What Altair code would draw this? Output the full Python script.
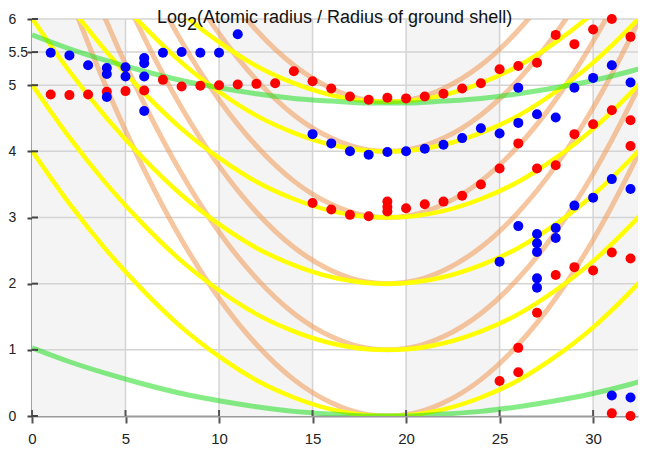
import altair as alt
import pandas as pd

# ---------------- data ----------------
curve_x = [0, 2, 4, 6, 8, 10, 12, 14, 16, 18, 19, 20, 22, 24, 26, 28, 30, 32, 33]

yellow_curves = {
    "0":    [4.01, 3.21, 2.50, 1.88, 1.34, 0.90, 0.54, 0.28, 0.10, 0.01, 0.00, 0.01, 0.10, 0.28, 0.54, 0.90, 1.34, 1.88, 2.18],
    "1":    [5.01, 4.21, 3.50, 2.88, 2.34, 1.90, 1.54, 1.28, 1.10, 1.01, 1.00, 1.01, 1.10, 1.28, 1.54, 1.90, 2.34, 2.88, 3.18],
    "2":    [6.01, 5.21, 4.50, 3.88, 3.34, 2.90, 2.54, 2.28, 2.10, 2.01, 2.00, 2.01, 2.10, 2.28, 2.54, 2.90, 3.34, 3.88, 4.18],
    "3":    [7.01, 6.21, 5.50, 4.88, 4.34, 3.90, 3.54, 3.28, 3.10, 3.01, 3.00, 3.01, 3.10, 3.28, 3.54, 3.90, 4.34, 4.88, 5.18],
    "4":    [8.01, 7.21, 6.50, 5.88, 5.34, 4.90, 4.54, 4.28, 4.10, 4.01, 4.00, 4.01, 4.10, 4.28, 4.54, 4.90, 5.34, 5.88, 6.18],
    "4.75": [8.76, 7.96, 7.25, 6.63, 6.09, 5.65, 5.29, 5.03, 4.85, 4.76, 4.75, 4.76, 4.85, 5.03, 5.29, 5.65, 6.09, 6.63, 6.93],
}
orange_curves = {
    "0":    [7.94, 6.36, 4.95, 3.72, 2.66, 1.78, 1.08, 0.55, 0.20, 0.02, 0.00, 0.02, 0.20, 0.55, 1.08, 1.78, 2.66, 3.72, 4.31],
    "1":    [8.94, 7.36, 5.95, 4.72, 3.66, 2.78, 2.08, 1.55, 1.20, 1.02, 1.00, 1.02, 1.20, 1.55, 2.08, 2.78, 3.66, 4.72, 5.31],
    "2":    [9.94, 8.36, 6.95, 5.72, 4.66, 3.78, 3.08, 2.55, 2.20, 2.02, 2.00, 2.02, 2.20, 2.55, 3.08, 3.78, 4.66, 5.72, 6.31],
    "3":    [10.94, 9.36, 7.95, 6.72, 5.66, 4.78, 4.08, 3.55, 3.20, 3.02, 3.00, 3.02, 3.20, 3.55, 4.08, 4.78, 5.66, 6.72, 7.31],
    "4":    [11.94, 10.36, 8.95, 7.72, 6.66, 5.78, 5.08, 4.55, 4.20, 4.02, 4.00, 4.02, 4.20, 4.55, 5.08, 5.78, 6.66, 7.72, 8.31],
    "4.75": [12.69, 11.11, 9.70, 8.47, 7.41, 6.53, 5.83, 5.30, 4.95, 4.77, 4.75, 4.77, 4.95, 5.30, 5.83, 6.53, 7.41, 8.47, 9.06],
}
green_curves = {
    "0":    [1.03, 0.82, 0.64, 0.48, 0.34, 0.23, 0.14, 0.07, 0.03, 0.00, 0.00, 0.00, 0.03, 0.07, 0.14, 0.23, 0.34, 0.48, 0.56],
    "4.73": [5.76, 5.55, 5.37, 5.21, 5.07, 4.96, 4.87, 4.80, 4.76, 4.73, 4.73, 4.73, 4.76, 4.80, 4.87, 4.96, 5.07, 5.21, 5.29],
}

red_x = [1, 2, 3, 4, 5, 6, 7, 8, 9, 10, 11, 12, 13, 14, 15, 16, 17, 18, 19, 20, 21, 22, 23, 24, 25, 26, 27, 28, 29, 30, 31, 32,
         15, 16, 17, 18, 19, 19, 19, 20, 21, 22, 23, 24, 25, 26, 27, 28, 29, 30, 31, 32, 32,
         28, 29, 30, 31, 32, 27, 26, 26, 25, 31, 32]
red_y = [4.86, 4.85, 4.86, 4.90, 4.91, 4.92, 5.08, 4.98, 4.99, 5.00, 5.01, 5.02, 5.03, 5.21, 5.06, 4.95, 4.83, 4.78,
         4.81, 4.80, 4.83, 4.87, 4.95, 5.03, 5.24, 5.29, 5.34, 5.76, 5.62, 5.84, 6.00, 5.73,
         3.22, 3.12, 3.04, 3.02, 3.24, 3.16, 3.09, 3.14, 3.20, 3.24, 3.33, 3.50, 3.74, 4.12, 3.74, 3.79, 4.26, 4.41, 4.62, 4.47, 4.08,
         2.13, 2.25, 2.20, 2.47, 2.38, 1.56, 1.03, 0.66, 0.53, 0.04, 0.00]

blue_x = [1, 2, 3, 4, 4, 4, 5, 5, 6, 6, 6, 6, 7, 8, 9, 10, 11,
          15, 16, 17, 18, 19, 20, 21, 22, 23, 24, 25, 26, 27, 28,
          26, 29, 30, 31, 32,
          29, 30, 31, 32,
          25, 26, 27, 27, 27, 28, 28, 27, 27, 31, 32]
blue_y = [5.49, 5.45, 5.30, 5.26, 5.17, 4.82, 5.27, 5.13, 5.41, 5.33, 5.13, 4.61, 5.49, 5.50, 5.49, 5.49, 5.77,
          4.26, 4.12, 4.00, 3.95, 3.99, 4.00, 4.04, 4.10, 4.20, 4.35, 4.27, 4.43, 4.56, 4.51,
          4.96, 4.96, 5.11, 5.30, 5.04,
          3.18, 3.30, 3.58, 3.43,
          2.33, 2.87, 2.75, 2.61, 2.48, 2.84, 2.69, 2.08, 1.94, 0.31, 0.28]

band_start = [0, 10, 20, 30]
band_end = [5, 15, 25, 32.4]
x_ticks = [0, 5, 10, 15, 20, 25, 30]
y_ticks = [0, 1, 2, 3, 4, 5, 5.5, 6]
grid_x = [5, 10, 15, 20, 25, 30]
grid_y = [1, 2, 3, 4, 5, 5.5, 6]
title_parts = ["Log", "2", "(Atomic radius / Radius of ground shell)"]

# ---------------- tables ----------------
def curve_table(curves, fam):
    rows = []
    for name, ys in curves.items():
        for x, y in zip(curve_x, ys):
            rows.append({"x": x, "y": y, "curve": fam + name})
    return pd.DataFrame(rows)

orange_df = curve_table(orange_curves, "o")
yellow_df = curve_table(yellow_curves, "y")
green_df = curve_table(green_curves, "g")
red_df = pd.DataFrame({"x": red_x, "y": red_y})
blue_df = pd.DataFrame({"x": blue_x, "y": blue_y})
band_df = pd.DataFrame({"x0": band_start, "x1": band_end})
gx_df = pd.DataFrame({"gx": grid_x})
gy_df = pd.DataFrame({"gy": grid_y})
xt_df = pd.DataFrame({"xt": x_ticks})
yt_df = pd.DataFrame({"yt": y_ticks})

W, H = 606, 397
FONT = "Liberation Sans"

xscale = alt.Scale(domain=[0, 32.4], nice=False, zero=False)
yscale = alt.Scale(domain=[0, 6], nice=False, zero=False)
xaxis = alt.Axis(values=x_ticks, format="d", title="", grid=False, domainColor="#999999", domainWidth=2,
                 tickColor="#555555", tickWidth=2, tickSize=7, labelPadding=8, labelFlush=False,
                 labelFont=FONT, labelFontSize=15, labelColor="#222222")
yaxis = alt.Axis(values=y_ticks, format=".2~g", title="", grid=False, domainColor="#444444", domainWidth=2,
                 tickColor="#444444", tickWidth=2, tickSize=5, labelPadding=19, labelAlign="left",
                 labelFont=FONT, labelFontSize=14, labelColor="#222222")


def X(field):
    return alt.X(field, type="quantitative", scale=xscale, axis=xaxis)


def Y(field):
    return alt.Y(field, type="quantitative", scale=yscale, axis=yaxis)


bands = alt.Chart(band_df).mark_rect(color="#f4f4f4").encode(
    x=X("x0"), x2="x1", y=alt.value(0), y2=alt.value(H))
vgrid = alt.Chart(gx_df).mark_rule(color="#d4d4d4", strokeWidth=1.5).encode(x=X("gx"))
hgrid = alt.Chart(gy_df).mark_rule(color="#d4d4d4", strokeWidth=1.5).encode(y=Y("gy"))

orange = alt.Chart(orange_df).mark_line(color="#f0a060", opacity=0.6, strokeWidth=5, clip=True,
                                        interpolate="monotone").encode(x=X("x"), y=Y("y"), detail="curve:N")
yellow = alt.Chart(yellow_df).mark_line(color="#ffff00", strokeWidth=4.5, clip=True,
                                        interpolate="monotone").encode(x=X("x"), y=Y("y"), detail="curve:N")
green = alt.Chart(green_df).mark_line(color="#22dd22", opacity=0.55, strokeWidth=5, clip=True,
                                      interpolate="monotone").encode(x=X("x"), y=Y("y"), detail="curve:N")

red = alt.Chart(red_df).mark_circle(color="#ff0000", size=100, opacity=1).encode(x=X("x"), y=Y("y"))
blue = alt.Chart(blue_df).mark_circle(color="#0000ff", size=100, opacity=1).encode(x=X("x"), y=Y("y"))

xin = alt.Chart(xt_df).mark_rule(color="#555555", strokeWidth=2).encode(
    x=X("xt"), y=alt.value(H - 6), y2=alt.value(H))
yin = alt.Chart(yt_df).mark_rule(color="#444444", strokeWidth=2).encode(
    y=Y("yt"), x=alt.value(0), x2=alt.value(6))


def title_piece(txt, px, py):
    return alt.Chart(pd.DataFrame({"t": [txt]})).mark_text(
        font=FONT, fontSize=18, color="#111111", align="left", baseline="alphabetic"
    ).encode(text="t:N", x=alt.value(px), y=alt.value(py))


t1 = title_piece(title_parts[0], 125, 4)
t2 = title_piece(title_parts[1], 155, 11)
t3 = title_piece(title_parts[2], 165, 4)

chart = alt.layer(
    bands, vgrid, hgrid, orange, yellow, green, red, blue, xin, yin, t1, t2, t3
).properties(
    width=W, height=H,
    autosize=alt.AutoSizeParams(type="none"),
    padding={"left": 24, "top": 11, "right": 11, "bottom": 37},
).configure_view(strokeWidth=0)

chart.save("out.html", embed_options={"renderer": "svg", "actions": False})
